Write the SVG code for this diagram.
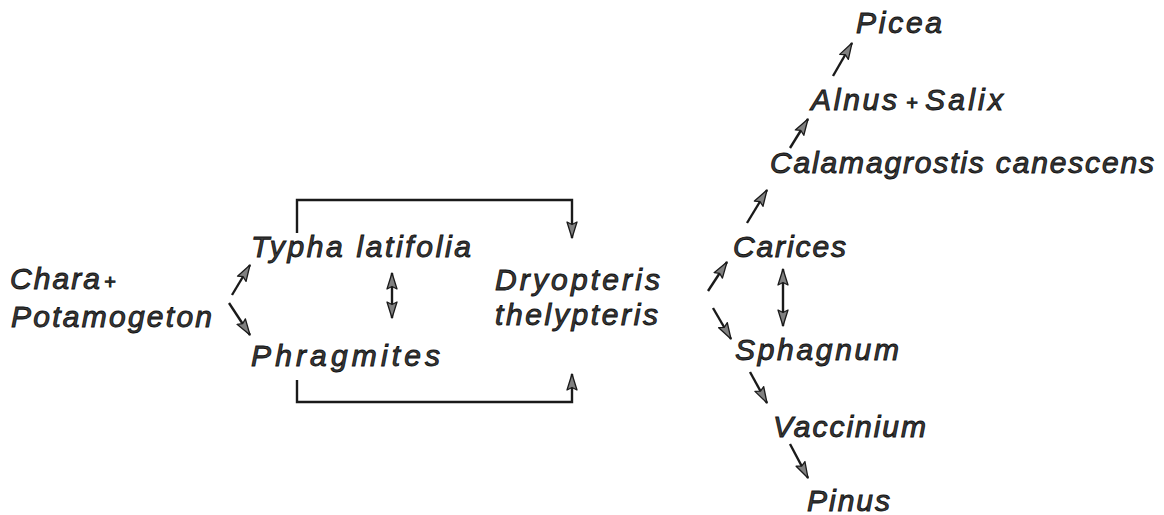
<svg xmlns="http://www.w3.org/2000/svg" width="1164" height="515" viewBox="0 0 1164 515">
<style>
.t{font-family:"Liberation Sans",Arial,sans-serif;font-style:italic;font-size:30px;fill:#3a3a3a;stroke:#111;stroke-width:0.9}
.p{font-size:20px}
.a{fill:none;stroke:#1a1a1a;stroke-width:2.4;marker-end:url(#ah)}
.d{fill:none;stroke:#1a1a1a;stroke-width:2.4;marker-start:url(#ah);marker-end:url(#ah)}
</style>
<defs>
<marker id="ah" viewBox="0 0 18 13" refX="17" refY="6.5" markerWidth="18" markerHeight="13" markerUnits="userSpaceOnUse" orient="auto-start-reverse">
<path d="M1,1.5 L17,6.5 L1,11.5 L3.5,6.5 Z" fill="#808080" stroke="#1a1a1a" stroke-width="1.3" stroke-linejoin="round"/>
</marker>
</defs>
<rect width="1164" height="515" fill="#fff"/>
<g id="chara"><text class="t" y="289"><tspan x="10" textLength="90" lengthAdjust="spacing">Chara</tspan><tspan class="p" x="104">+</tspan></text><text class="t" x="11" y="327" textLength="201" lengthAdjust="spacing">Potamogeton</text></g>
<g id="typha"><text class="t" x="251" y="257" textLength="220" lengthAdjust="spacing">Typha latifolia</text></g>
<g id="phragmites"><text class="t" x="251" y="366" textLength="189" lengthAdjust="spacing">Phragmites</text></g>
<g id="dryopteris"><text class="t" x="495" y="290" textLength="165" lengthAdjust="spacing">Dryopteris</text><text class="t" x="495" y="325" textLength="163" lengthAdjust="spacing">thelypteris</text></g>
<g id="picea"><text class="t" x="856" y="33" textLength="86" lengthAdjust="spacing">Picea</text></g>
<g id="alnus"><text class="t" y="110"><tspan x="811" textLength="86" lengthAdjust="spacing">Alnus</tspan><tspan class="p" x="906">+</tspan><tspan x="925" textLength="78" lengthAdjust="spacing">Salix</tspan></text></g>
<g id="calamagrostis"><text class="t" x="770" y="173" textLength="384" lengthAdjust="spacing">Calamagrostis canescens</text></g>
<g id="carices"><text class="t" x="733" y="257" textLength="113" lengthAdjust="spacing">Carices</text></g>
<g id="sphagnum"><text class="t" x="735" y="360" textLength="164" lengthAdjust="spacing">Sphagnum</text></g>
<g id="vaccinium"><text class="t" x="773" y="437" textLength="153" lengthAdjust="spacing">Vaccinium</text></g>
<g id="pinus"><text class="t" x="807" y="511" textLength="83" lengthAdjust="spacing">Pinus</text></g>
<g id="connectors">
<line class="a" x1="232" y1="295" x2="250" y2="265"/>
<line class="a" x1="229" y1="303" x2="250" y2="335"/>
<line class="d" x1="392" y1="273" x2="392" y2="318"/>
<polyline class="a" points="297,233 297,200 572,200 572,238"/>
<polyline class="a" points="297,380 297,402 572,402 572,374"/>
<line class="a" x1="708" y1="291" x2="727" y2="262"/>
<line class="a" x1="713" y1="308" x2="731" y2="339"/>
<line class="d" x1="783" y1="269" x2="783" y2="326"/>
<line class="a" x1="747" y1="223" x2="767" y2="190"/>
<line class="a" x1="790" y1="148" x2="808" y2="119"/>
<line class="a" x1="833" y1="76" x2="852" y2="43"/>
<line class="a" x1="750" y1="372" x2="767" y2="403"/>
<line class="a" x1="790" y1="444" x2="808" y2="478"/>
</g>
</svg>
